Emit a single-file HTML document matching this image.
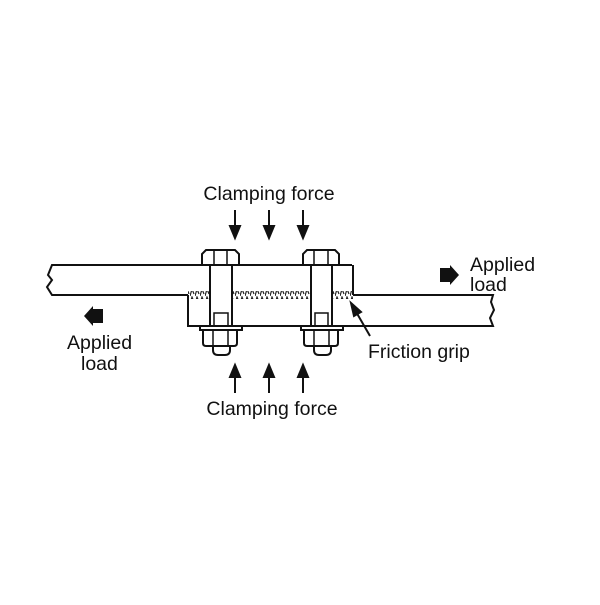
<!DOCTYPE html>
<html><head><style>
html,body{margin:0;padding:0;background:#fff;}
svg text{font-family:"Liberation Sans",sans-serif;fill:#111;}
</style></head><body>
<svg width="600" height="600" viewBox="0 0 600 600" xmlns="http://www.w3.org/2000/svg">
<defs>
<pattern id="h" width="5" height="8" patternUnits="userSpaceOnUse"><path d="M0 8 L2 1 L4 6" fill="none" stroke="#222" stroke-width="1.2"/></pattern>
</defs>
<g fill="none" stroke="#111" stroke-width="2">
<path d="M352 265 L52 265 L48 275 L52 280 L47 287 L52 295 L188 295"/>
<path d="M353 265 L353 295"/>
<path d="M188 295 L188 326 L493 326 L490 318 L494 310 L491 302 L493 295 L353 295"/>
</g>
<rect x="188" y="291" width="22" height="8" fill="url(#h)"/>
<rect x="232" y="291" width="81" height="8" fill="url(#h)"/>
<rect x="331" y="291" width="22" height="8" fill="url(#h)"/>
<g fill="#fff" stroke="#111" stroke-width="2">
<path d="M202 265 L202 254 L206 250 L235 250 L239 254 L239 265 Z"/>
<path d="M214 250 L214 265 M227 250 L227 265" stroke-width="1.5"/>
<rect x="210" y="265" width="22" height="61"/>
<rect x="214" y="313" width="14" height="13" stroke-width="1.5"/>
<rect x="200" y="326" width="42" height="4"/>
<path d="M213 346 L213 350 Q213 355 218 355 L225 355 Q230 355 230 350 L230 346"/>
<path d="M203 330 L237 330 L237 343 Q237 346 234 346 L206 346 Q203 346 203 343 Z"/>
<path d="M213 330 L213 346 M228 330 L228 346" stroke-width="1.5"/>
<path d="M303 265 L303 254 L307 250 L335 250 L339 254 L339 265 Z"/>
<path d="M314 250 L314 265 M328 250 L328 265" stroke-width="1.5"/>
<rect x="311" y="265" width="21" height="61"/>
<rect x="315" y="313" width="13" height="13" stroke-width="1.5"/>
<rect x="301" y="326" width="42" height="4"/>
<path d="M314 346 L314 350 Q314 355 319 355 L326 355 Q331 355 331 350 L331 346"/>
<path d="M304 330 L338 330 L338 343 Q338 346 335 346 L307 346 Q304 346 304 343 Z"/>
<path d="M314 330 L314 346 M329 330 L329 346" stroke-width="1.5"/>
</g>
<g stroke="#111" stroke-width="2" fill="#111">
<path d="M235 210 L235 228"/><path d="M230 226 L240 226 L235 238 Z"/>
<path d="M269 210 L269 228"/><path d="M264 226 L274 226 L269 238 Z"/>
<path d="M303 210 L303 228"/><path d="M298 226 L308 226 L303 238 Z"/>
<path d="M235 393 L235 375"/><path d="M230 377 L240 377 L235 365 Z"/>
<path d="M269 393 L269 375"/><path d="M264 377 L274 377 L269 365 Z"/>
<path d="M303 393 L303 375"/><path d="M298 377 L308 377 L303 365 Z"/>
<path d="M370 336 L355 310"/><path d="M351 303 L361 312 L354 316 Z"/>
</g>
<path d="M440 268 L450 268 L450 265 L459 275 L450 285 L450 282 L440 282 Z" fill="#111"/>
<path d="M103 309 L93 309 L93 306 L84 316 L93 326 L93 323 L103 323 Z" fill="#111"/>
<text x="269" y="200" font-size="19.5" text-anchor="middle">Clamping force</text>
<text x="272" y="415" font-size="19.5" text-anchor="middle">Clamping force</text>
<text x="470" y="271" font-size="19.5">Applied</text>
<text x="470" y="291" font-size="19.5">load</text>
<text x="67" y="349" font-size="19.5">Applied</text>
<text x="81" y="370" font-size="19.5">load</text>
<text x="368" y="358" font-size="19.5">Friction grip</text>
</svg>
</body></html>
